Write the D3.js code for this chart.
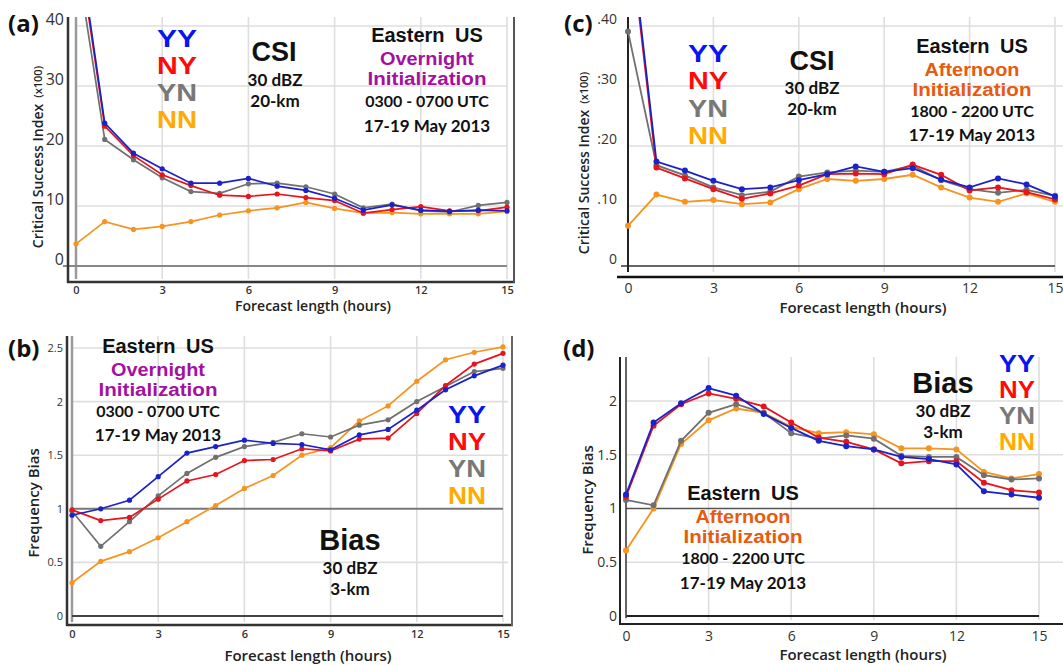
<!DOCTYPE html>
<html><head><meta charset="utf-8">
<script src="https://cdn.jsdelivr.net/npm/d3@7"></script>
<style>body{margin:0;background:#fff}svg{display:block}</style>
</head><body>
<svg id="c" width="1063" height="665"></svg>
<script>
// ---------------- DATA ----------------
const hours = [0,1,2,3,4,5,6,7,8,9,10,11,12,13,14,15];
const xTicks = [0,3,6,9,12,15];
const seriesNames = ["YY","NY","YN","NN"];

// (a) CSI overnight (x100)
const csiA_YY = [57, 23.8, 18.8, 16.2, 13.8, 13.8, 14.6, 13.3, 12.6, 11.3, 9.3, 10.2, 9.3, 9.1, 9.3, 9.2];
const csiA_NY = [56, 23.3, 18.4, 15.2, 13.4, 11.8, 11.6, 12.0, 11.4, 10.9, 8.8, 9.4, 9.9, 9.2, 9.2, 9.8];
const csiA_YN = [52, 21.1, 17.7, 14.7, 12.4, 12.1, 13.7, 13.8, 13.2, 12.0, 9.7, 10.3, 9.2, 9.0, 10.1, 10.6];
const csiA_NN = [3.7, 7.4, 6.1, 6.6, 7.4, 8.5, 9.2, 9.7, 10.6, 9.6, 8.8, 8.9, 8.7, 8.7, 8.7, 9.1];
// (c) CSI afternoon
const csiC_YY = [59, 17.4, 15.9, 14.2, 12.8, 13.1, 14.3, 15.3, 16.6, 15.7, 16.3, 14.4, 13.1, 14.6, 13.6, 11.6];
const csiC_NY = [58, 16.4, 14.6, 12.8, 11.2, 12.1, 13.4, 15.3, 15.4, 15.3, 16.9, 15.2, 12.6, 13.1, 12.3, 11.1];
const csiC_YN = [39.1, 16.8, 15.1, 13.1, 11.8, 12.4, 14.9, 15.6, 15.9, 15.7, 16.7, 14.3, 12.8, 12.2, 12.7, 11.7];
const csiC_NN = [6.7, 11.9, 10.7, 11.0, 10.3, 10.6, 12.8, 14.5, 14.2, 14.5, 15.2, 13.1, 11.4, 10.7, 12.1, 10.7];
// (b) Bias overnight
const biasB_YY = [0.94,1.00,1.08,1.30,1.52,1.58,1.64,1.61,1.60,1.55,1.69,1.74,1.92,2.11,2.24,2.34];
const biasB_NY = [0.99,0.89,0.92,1.09,1.26,1.32,1.45,1.46,1.56,1.54,1.65,1.66,1.89,2.15,2.35,2.45];
const biasB_YN = [0.98,0.65,0.88,1.12,1.33,1.48,1.58,1.62,1.70,1.67,1.78,1.83,2.00,2.14,2.28,2.31];
const biasB_NN = [0.31,0.51,0.60,0.73,0.88,1.03,1.19,1.31,1.50,1.57,1.82,1.96,2.19,2.39,2.46,2.51];
// (d) Bias afternoon
const biasD_YY = [1.13,1.80,1.98,2.12,2.05,1.88,1.75,1.63,1.58,1.55,1.48,1.46,1.41,1.16,1.13,1.10];
const biasD_NY = [1.11,1.77,1.97,2.07,2.02,1.95,1.80,1.66,1.62,1.55,1.42,1.44,1.44,1.24,1.17,1.15];
const biasD_YN = [1.08,1.03,1.63,1.89,1.97,1.89,1.70,1.65,1.68,1.65,1.49,1.48,1.48,1.31,1.27,1.28];
const biasD_NN = [0.61,1.00,1.60,1.82,1.93,1.89,1.76,1.70,1.71,1.69,1.56,1.56,1.55,1.34,1.28,1.32];

const csiTicks = [0,10,20,30,40];
const csiTickLabelsA = ["0","10","20","30","40"];
const csiTickLabelsC = ["0",".10",":20",":30",".40"];
const biasTicksB = [0,0.5,1,1.5,2,2.5];
const biasTickLabelsB = ["0","0.5","1","1.5","2","2.5"];
const biasTicksD = [0,0.5,1,1.5,2];
const biasTickLabelsD = ["0","0.5","1","1.5","2"];

// ---------------- STYLE ----------------
const lineColors = {YY:"#1a22c8", NY:"#e8141c", YN:"#707070", NN:"#f7931e"};
const textColors = {YY:"#0a14f0", NY:"#ff0a0a", YN:"#787878", NN:"#ffab00"};
const purple = "#a3129f", orangeTxt = "#e85a0e";
const sans = "'Open Sans', 'DejaVu Sans', sans-serif";
const lato = "Lato, 'Open Sans', sans-serif";
const bold = "'Liberation Sans', Arial, sans-serif";

const svg = d3.select("#c");
const defs = svg.append("defs");

function ln(g, x1, y1, x2, y2, color, w) {
  g.append("line").attr("x1",x1).attr("y1",y1).attr("x2",x2).attr("y2",y2)
    .attr("stroke",color).attr("stroke-width",w);
}
function styleT(sel, o) {
  sel.attr("font-family", o.family || lato).attr("font-weight", o.weight || 700)
    .attr("font-size", o.size).attr("fill", o.color || "#111")
    .attr("word-spacing", o.ws || 0).attr("dominant-baseline","central");
  if (o.tl) sel.attr("textLength", o.tl).attr("lengthAdjust","spacingAndGlyphs");
}
function txt(g, s, x, y, o) {
  const t = g.append("text").attr("x",x).attr("y",y).attr("text-anchor", o.anchor || "middle").text(s);
  styleT(t, o);
}

function panel(cfg) {
  const g = svg.append("g");
  const x = d3.scaleLinear().domain([0,15]).range(cfg.xr);
  const y = d3.scaleLinear().domain(cfg.yd).range(cfg.yr);

  cfg.hgrid.forEach(v => ln(g, x(0), y(v), cfg.gridRight, y(v), "#dedede", 1.6));
  xTicks.forEach(v => ln(g, x(v), cfg.top, x(v), cfg.gridBottom, "#dedede", 1.6));

  cfg.decor(g, x, y);

  const ya = d3.axisLeft(y).tickValues(cfg.yTicks).tickFormat((d,i)=>cfg.yLabels[i])
    .tickSize(0).tickPadding(cfg.yPad);
  const yg = g.append("g").attr("transform",`translate(${x(0)},0)`).call(ya);
  yg.select(".domain").remove();
  yg.selectAll("text").attr("font-family",cfg.yFamily||sans).attr("font-size",cfg.yFont)
    .attr("font-weight",cfg.yWeight||400).attr("fill","#333").attr("dy",cfg.yDy);

  const xa = d3.axisBottom(x).tickValues(xTicks).tickSize(0).tickPadding(0);
  const xg = g.append("g").attr("transform",`translate(0,${cfg.xLabelY})`).call(xa);
  xg.select(".domain").remove();
  xg.selectAll("text").attr("font-family",sans).attr("font-size",cfg.xFont)
    .attr("font-weight",cfg.xWeight||400).attr("fill","#333").attr("dy","0.35em").attr("y",0);

  txt(g, "Forecast length (hours)", cfg.xTitle[0], cfg.xTitle[1],
      {size:cfg.xTitleSize||15, weight:600, family:sans, color:"#222"});
  const yt = g.append("text").attr("transform",`translate(${cfg.yTitle[0]},${cfg.yTitle[1]}) rotate(-90)`)
    .attr("text-anchor","middle").attr("dominant-baseline","central")
    .attr("font-family",sans).attr("font-weight",600).attr("font-size",cfg.yTitleSize).attr("fill","#222");
  yt.append("tspan").text(cfg.yTitleText);
  if (cfg.yTitleSub) yt.append("tspan").attr("font-size",11).attr("dx",6).text(cfg.yTitleSub);

  const cid = "clip" + cfg.id;
  defs.append("clipPath").attr("id",cid).append("rect")
    .attr("x", x(0)-6).attr("y", cfg.top).attr("width", x(15)-x(0)+12).attr("height", cfg.gridBottom-cfg.top+10);
  const dg = g.append("g").attr("clip-path",`url(#${cid})`);
  const line = d3.line().x((d,i)=>x(hours[i])).y(d=>y(d));
  cfg.order.forEach(name => {
    const vals = cfg.series[name];
    dg.append("path").datum(vals).attr("d",line).attr("fill","none")
      .attr("stroke",lineColors[name]).attr("stroke-width",cfg.lw);
    dg.selectAll(null).data(vals).join("circle")
      .attr("cx",(d,i)=>x(hours[i])).attr("cy",d=>y(d)).attr("r",cfg.r)
      .attr("fill",lineColors[name]);
  });

  txt(g, cfg.letter, cfg.letterPos[0], cfg.letterPos[1], {size:24, weight:700, family:sans, color:"#111", anchor:"start"});

  // legend
  seriesNames.forEach((n,i) => txt(g, n, cfg.leg[0], cfg.leg[1] + i*cfg.leg[2],
    {size:cfg.leg[3], weight:700, family:bold, color:textColors[n], tl:cfg.leg[4]}));

  cfg.notes.forEach(t => txt(g, t[0], t[1], t[2], t[3]));
}

const E = {size:20, weight:700, family:bold, ws:5};
const P1 = {size:18, weight:700, family:bold, color:purple, tl:94};
const P2 = {size:18, weight:700, family:bold, color:purple, tl:119};
const O1 = {size:18, weight:700, family:bold, color:orangeTxt, tl:95};
const O2 = {size:18, weight:700, family:bold, color:orangeTxt, tl:119};
const BIG = {size:27, weight:700, family:bold};
const BIAS = {size:29, weight:700, family:bold};
const S16 = {size:16}, S17 = {size:17};

// (a)
panel({
  id:"a", xr:[76,507], yd:[0,40], yr:[266,26], top:17, gridBottom:279, gridRight:507,
  hgrid:[10,20,30,40], yTicks:csiTicks, yLabels:csiTickLabelsA, yPad:12, yFont:16, yDy:"-0.12em",
  yFamily:"'Liberation Sans Narrow','Open Sans',sans-serif",
  xLabelY:290, xFont:11, xWeight:600, xTitle:[313,305], xTitleSize:14, yTitle:[37,157], yTitleSize:14,
  yTitleText:"Critical Success Index", yTitleSub:"(x100)",
  series:{YY:csiA_YY, NY:csiA_NY, YN:csiA_YN, NN:csiA_NN}, order:["NN","YN","NY","YY"],
  lw:1.7, r:2.6, letter:"(a)", letterPos:[8,22], leg:[177,38,27,24,40],
  decor:(g,x,y)=>{
    ln(g, x(0), 17, x(0), 279, "#9a9a9a", 2.5);
    ln(g, 63, y(0), x(15), y(0), "#888", 2);
    ln(g, 68, 17, 68, 283, "#333", 2.5);
    ln(g, 67, 282, 515, 282, "#333", 2.5);
    ln(g, 514, 17, 514, 283, "#555", 2);
  },
  notes:[
    ["CSI",274,52,BIG],["30 dBZ",275,79,S17],["20-km",275,100,S17],
    ["Eastern US",427,35,E],["Overnight",427,59,P1],["Initialization",427,79,P2],
    ["0300 - 0700 UTC",427,100,S16],["17-19 May 2013",427,125,S17]
  ]
});
// (c)
panel({
  id:"c", xr:[628,1055], yd:[0,40], yr:[266,26], top:17, gridBottom:272, gridRight:1063,
  hgrid:[10,20,30,40], yTicks:csiTicks, yLabels:csiTickLabelsC, yPad:11, yFont:14, yDy:"-0.2em",
  xLabelY:288, xFont:14, xTitle:[863,307], yTitle:[583,163], yTitleSize:14,
  yTitleText:"Critical Success Index", yTitleSub:"(x100)",
  series:{YY:csiC_YY, NY:csiC_NY, YN:csiC_YN, NN:csiC_NN}, order:["NN","YN","NY","YY"],
  lw:1.8, r:3, letter:"(c)", letterPos:[564,22], leg:[708,53,27.5,24,40],
  decor:(g,x,y)=>{
    ln(g, 621, y(0), x(15), y(0), "#666", 1.8);
    ln(g, x(0), 17, x(0), 272, "#222", 2);
    ln(g, 617, 277, 1063, 277, "#111", 2.5);
  },
  notes:[
    ["CSI",812,61,BIG],["30 dBZ",812,87,S17],["20-km",812,108,S17],
    ["Eastern US",972,46,E],["Afternoon",972,70,O1],["Initialization",972,90,O2],
    ["1800 - 2200 UTC",972,110,S16],["17-19 May 2013",972,134,S17]
  ]
});
// (b)
panel({
  id:"b", xr:[72,503], yd:[0,2.5], yr:[616,348], top:336, gridBottom:622, gridRight:508,
  hgrid:[0.5,1.5,2,2.5], yTicks:biasTicksB, yLabels:biasTickLabelsB, yPad:9, yFont:11, yDy:"0.32em",
  yFamily:"'Liberation Sans Narrow','Open Sans',sans-serif",
  xLabelY:634, xFont:11, xWeight:600, xTitle:[308,655], yTitle:[33,503], yTitleSize:15,
  yTitleText:"Frequency Bias",
  series:{YY:biasB_YY, NY:biasB_NY, YN:biasB_YN, NN:biasB_NN}, order:["NN","YN","NY","YY"],
  lw:1.7, r:2.6, letter:"(b)", letterPos:[8,347], leg:[467,414,27,24,38],
  decor:(g,x,y)=>{
    ln(g, x(0), 336, x(0), 622, "#9a9a9a", 2.5);
    ln(g, x(0), y(1), x(15), y(1), "#777", 2);
    ln(g, x(0), y(0), x(15), y(0), "#444", 2);
    ln(g, 67, 336, 67, 626, "#333", 2.5);
    ln(g, 66, 625, 513, 625, "#333", 2.5);
    ln(g, 512, 336, 512, 626, "#666", 2);
  },
  notes:[
    ["Eastern US",158,346,E],["Overnight",158,370,P1],["Initialization",158,390,P2],
    ["0300 - 0700 UTC",158,410,S16],["17-19 May 2013",158,434,S17],
    ["Bias",350,540,BIAS],["30 dBZ",350,567,S17],["3-km",350,588,S17]
  ]
});
// (d)
panel({
  id:"d", xr:[626,1039], yd:[0,2], yr:[616,401], top:357, gridBottom:620, gridRight:1063,
  hgrid:[0.5,1.5,2], yTicks:biasTicksD, yLabels:biasTickLabelsD, yPad:9, yFont:14, yDy:"0.32em",
  xLabelY:636, xFont:14, xTitle:[863,654], yTitle:[587,500], yTitleSize:15,
  yTitleText:"Frequency Bias",
  series:{YY:biasD_YY, NY:biasD_NY, YN:biasD_YN, NN:biasD_NN}, order:["NN","YN","NY","YY"],
  lw:1.8, r:3, letter:"(d)", letterPos:[563,347], leg:[1017,364,26,23,36],
  decor:(g,x,y)=>{
    ln(g, x(0), y(1), x(15), y(1), "#555", 1.6);
    ln(g, x(0), y(0), x(15), y(0), "#222", 2.2);
    ln(g, 620, 357, 620, 625, "#222", 2);
    ln(g, x(0), 357, x(0), 618, "#444", 1.6);
    ln(g, 619, 624, 1063, 624, "#222", 2.2);
  },
  notes:[
    ["Bias",943,383,BIAS],["30 dBZ",943,410,S17],["3-km",943,431,S17],
    ["Eastern US",743,493,E],["Afternoon",743,517,O1],["Initialization",743,537,O2],
    ["1800 - 2200 UTC",743,557,S16],["17-19 May 2013",743,582,S17]
  ]
});
</script>
</body></html>
